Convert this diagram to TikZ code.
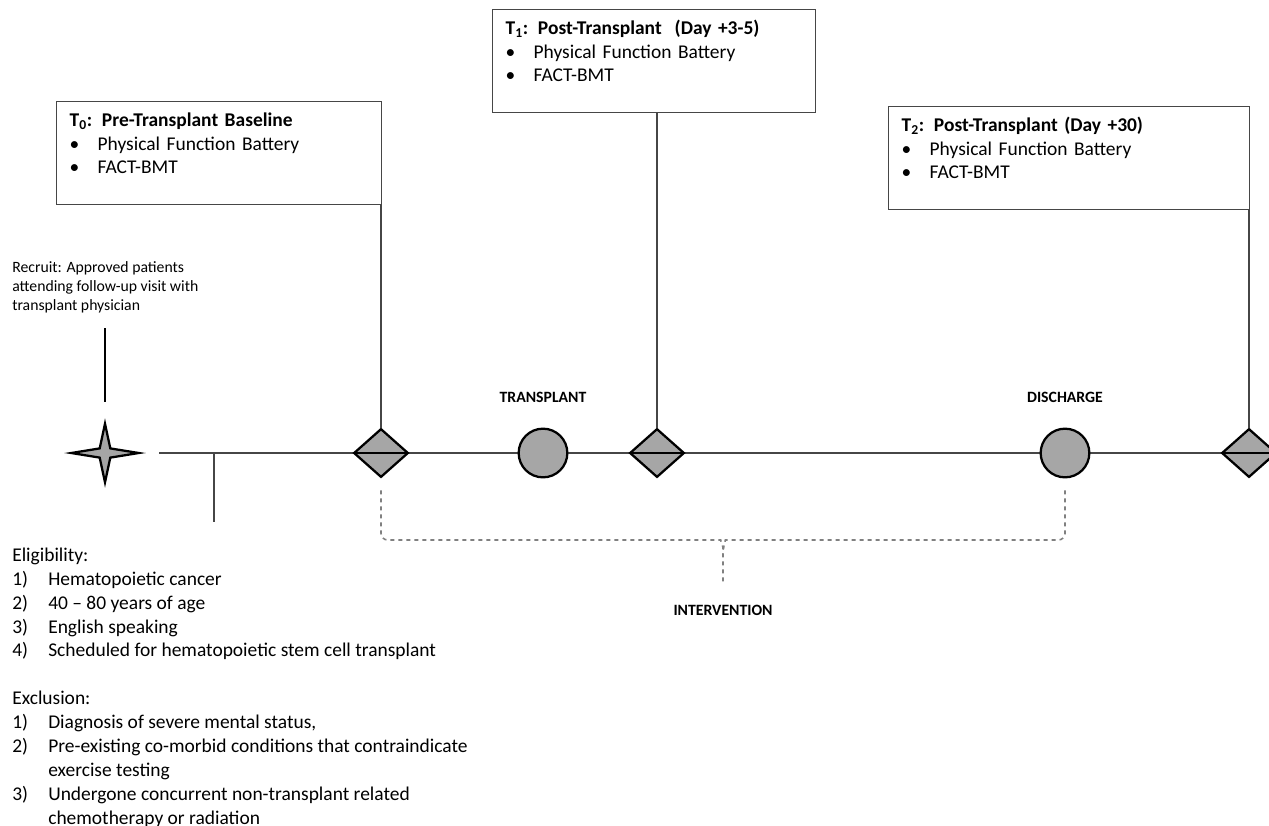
\documentclass[tikz,border=0pt]{standalone}
\usepackage{fontspec}
\setmainfont{Carlito}
\usetikzlibrary{shapes.geometric,positioning,calc}

\definecolor{markgray}{RGB}{166,166,166}
\definecolor{linegray}{RGB}{70,70,70}
\definecolor{bracegray}{RGB}{128,128,128}

\newcommand{\bodyfont}{\fontsize{14.6}{17.6}\selectfont}
\newcommand{\numitem}[1]{\makebox[27pt][l]{#1}}
\newcommand{\bulitem}{\makebox[21pt][l]{\textbullet}}

\begin{document}
\begin{tikzpicture}[x=0.75pt,y=-0.75pt,
	tbox/.style={draw=linegray,line width=1pt,anchor=north west,align=left,inner xsep=9.75pt,inner ysep=0pt,
		text height=18.75pt,text depth=58.5pt,font=\bodyfont},
	visit/.style={diamond,draw,line width=1.7pt,fill=markgray,minimum width=41pt,minimum height=36.5pt,inner sep=0pt},
	event/.style={circle,draw,line width=1.7pt,fill=markgray,minimum size=36.5pt,inner sep=0pt},
	recruit/.style={star,star points=4,star point ratio=4.5,draw,line width=1.7pt,fill=markgray,minimum size=44pt,inner sep=0pt},
	evlabel/.style={font=\bfseries\fontsize{11.8}{14}\selectfont,inner sep=0pt},
	tl/.style={draw=linegray,line width=1.1pt},
	brace/.style={draw=bracegray,dashed,line width=1.2pt,rounded corners=5pt}]
	\useasboundingbox (0,0) rectangle (1269,825);
	\clip (0,0) rectangle (1269,825);

	% timeline
	\coordinate (lstart) at (159,453);
	\coordinate (lend)   at (1269,453);
	\coordinate (tick)   at (214,453);
	\draw[tl] (lstart) -- (lend);
	\draw[tl] (tick) -- ++(0,69);

	% recruitment
	\begin{scope}[shift={(105,453)},xscale=1.15]
		\node[recruit,transform shape] (st) at (0,0) {};
	\end{scope}
	\coordinate (rtop) at (105,328);
	\coordinate (rbot) at (105,402);
	\draw[draw=black,line width=1.5pt] (rtop) -- (rbot);
	\node[anchor=base west,align=left,inner sep=0pt,font=\fontsize{11.8}{13.9}\selectfont] (rec) at (12,310)
		{Recruit: Approved patients\\ attending follow-up visit with\\ transplant physician};

	% assessments and events
	\node[visit] (d0) at (381,453) {};
	\node[event] (c0) at (543,453) {};
	\node[visit] (d1) at (657,453) {};
	\node[event] (c1) at (1065,453) {};
	\node[visit] (d2) at (1249,453) {};
	\foreach \d in {d0,d1,d2}
		\draw[line width=1.7pt] (\d.west) -- (\d.east);

	\node[evlabel,above=18.75pt of c0] (ctx) {TRANSPLANT};
	\node[evlabel,above=18.75pt of c1] (cdis) {DISCHARGE};

	% time points
	\node[tbox,text width=224.25pt] (t0) at (56,101)
		{\textbf{T\textsubscript{0}: Pre-Transplant Baseline}\\ \bulitem Physical Function Battery\\ \bulitem FACT-BMT};
	\node[tbox,text width=222.75pt] (t1) at (492,9)
		{\textbf{T\textsubscript{1}: Post-Transplant\ \ (Day +3-5)}\\ \bulitem Physical Function Battery\\ \bulitem FACT-BMT};
	\node[tbox,text width=251.25pt] (t2) at (888,106)
		{\textbf{T\textsubscript{2}: Post-Transplant\ (Day +30)}\\ \bulitem Physical Function Battery\\ \bulitem FACT-BMT};
	\draw[tl] (d0.north) -- (d0.north |- t0.south);
	\draw[tl] (d1.north) -- (d1.north |- t1.south);
	\draw[tl] (d2.north) -- (d2.north |- t2.south);

	% intervention brace
	\coordinate (bmid) at (723,540);
	\node[evlabel,below=49pt of bmid] (iv) {INTERVENTION};
	\draw[brace] ($(d0.south)+(0,12)$) |- ($(bmid)+(-9,0)$) to[out=0,in=90] ($(bmid)+(0,14)$) -- ($(iv.north)+(0,-20)$);
	\draw[brace] ($(c1.south)+(0,12)$) |- ($(bmid)+(9,0)$) to[out=180,in=90] ($(bmid)+(0,14)$);

	% criteria
	\node[anchor=base west,align=left,inner sep=0pt,font=\fontsize{14.6}{17.9}\selectfont] (crit) at (12,824)
		{Eligibility:\\
		 \numitem{1)}Hematopoietic cancer\\
		 \numitem{2)}40 -- 80 years of age\\
		 \numitem{3)}English speaking\\
		 \numitem{4)}Scheduled for hematopoietic stem cell transplant\\[17.9pt]
		 Exclusion:\\
		 \numitem{1)}Diagnosis of severe mental status,\\
		 \numitem{2)}Pre-existing co-morbid conditions that contraindicate\\
		 \numitem{}exercise testing\\
		 \numitem{3)}Undergone concurrent non-transplant related\\
		 \numitem{}chemotherapy or radiation};
\end{tikzpicture}
\end{document}
